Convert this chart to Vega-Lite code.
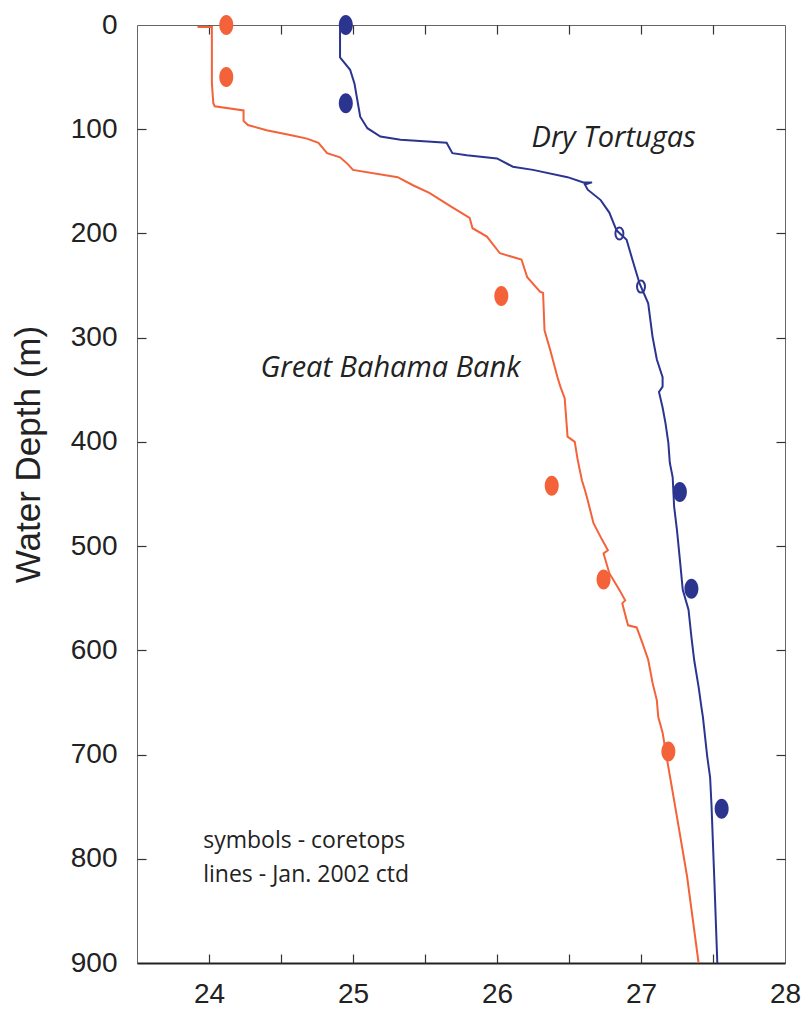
{
  "$schema": "https://vega.github.io/schema/vega-lite/v6.json",
  "width": 648,
  "height": 938,
  "autosize": "none",
  "padding": {"left": 137, "top": 25, "right": 25, "bottom": 49},
  "background": "white",
  "config": {
    "view": {"stroke": "#666", "strokeWidth": 1},
    "axis": {"grid": false, "tickColor": "#333", "tickWidth": 1.2, "labelColor": "#222", "titleColor": "#222", "labelFont": "Liberation Sans", "titleFont": "Liberation Sans"}
  },
  "datasets": {
    "lines": [
      {"site": "Great Bahama Bank", "i": 0, "T": 23.92, "D": 2},
      {"site": "Great Bahama Bank", "i": 1, "T": 24.02, "D": 2},
      {"site": "Great Bahama Bank", "i": 2, "T": 24.02, "D": 30},
      {"site": "Great Bahama Bank", "i": 3, "T": 24.02, "D": 56},
      {"site": "Great Bahama Bank", "i": 4, "T": 24.03, "D": 75},
      {"site": "Great Bahama Bank", "i": 5, "T": 24.04, "D": 78},
      {"site": "Great Bahama Bank", "i": 6, "T": 24.24, "D": 82},
      {"site": "Great Bahama Bank", "i": 7, "T": 24.24, "D": 92},
      {"site": "Great Bahama Bank", "i": 8, "T": 24.27, "D": 96},
      {"site": "Great Bahama Bank", "i": 9, "T": 24.40, "D": 101},
      {"site": "Great Bahama Bank", "i": 10, "T": 24.58, "D": 106},
      {"site": "Great Bahama Bank", "i": 11, "T": 24.68, "D": 109},
      {"site": "Great Bahama Bank", "i": 12, "T": 24.76, "D": 113},
      {"site": "Great Bahama Bank", "i": 13, "T": 24.82, "D": 123},
      {"site": "Great Bahama Bank", "i": 14, "T": 24.91, "D": 127},
      {"site": "Great Bahama Bank", "i": 15, "T": 24.96, "D": 133},
      {"site": "Great Bahama Bank", "i": 16, "T": 25.00, "D": 139},
      {"site": "Great Bahama Bank", "i": 17, "T": 25.31, "D": 146},
      {"site": "Great Bahama Bank", "i": 18, "T": 25.42, "D": 154},
      {"site": "Great Bahama Bank", "i": 19, "T": 25.53, "D": 161},
      {"site": "Great Bahama Bank", "i": 20, "T": 25.69, "D": 175},
      {"site": "Great Bahama Bank", "i": 21, "T": 25.81, "D": 185},
      {"site": "Great Bahama Bank", "i": 22, "T": 25.83, "D": 195},
      {"site": "Great Bahama Bank", "i": 23, "T": 25.93, "D": 203},
      {"site": "Great Bahama Bank", "i": 24, "T": 26.02, "D": 219},
      {"site": "Great Bahama Bank", "i": 25, "T": 26.17, "D": 225},
      {"site": "Great Bahama Bank", "i": 26, "T": 26.21, "D": 242},
      {"site": "Great Bahama Bank", "i": 27, "T": 26.30, "D": 256},
      {"site": "Great Bahama Bank", "i": 28, "T": 26.32, "D": 257},
      {"site": "Great Bahama Bank", "i": 29, "T": 26.33, "D": 293},
      {"site": "Great Bahama Bank", "i": 30, "T": 26.37, "D": 312},
      {"site": "Great Bahama Bank", "i": 31, "T": 26.42, "D": 338},
      {"site": "Great Bahama Bank", "i": 32, "T": 26.44, "D": 347},
      {"site": "Great Bahama Bank", "i": 33, "T": 26.47, "D": 358},
      {"site": "Great Bahama Bank", "i": 34, "T": 26.49, "D": 395},
      {"site": "Great Bahama Bank", "i": 35, "T": 26.54, "D": 400},
      {"site": "Great Bahama Bank", "i": 36, "T": 26.56, "D": 417},
      {"site": "Great Bahama Bank", "i": 37, "T": 26.59, "D": 437},
      {"site": "Great Bahama Bank", "i": 38, "T": 26.61, "D": 446},
      {"site": "Great Bahama Bank", "i": 39, "T": 26.63, "D": 456},
      {"site": "Great Bahama Bank", "i": 40, "T": 26.67, "D": 478},
      {"site": "Great Bahama Bank", "i": 41, "T": 26.73, "D": 494},
      {"site": "Great Bahama Bank", "i": 42, "T": 26.77, "D": 504},
      {"site": "Great Bahama Bank", "i": 43, "T": 26.74, "D": 507},
      {"site": "Great Bahama Bank", "i": 44, "T": 26.78, "D": 526},
      {"site": "Great Bahama Bank", "i": 45, "T": 26.85, "D": 542},
      {"site": "Great Bahama Bank", "i": 46, "T": 26.89, "D": 552},
      {"site": "Great Bahama Bank", "i": 47, "T": 26.87, "D": 555},
      {"site": "Great Bahama Bank", "i": 48, "T": 26.91, "D": 576},
      {"site": "Great Bahama Bank", "i": 49, "T": 26.97, "D": 578},
      {"site": "Great Bahama Bank", "i": 50, "T": 27.01, "D": 593},
      {"site": "Great Bahama Bank", "i": 51, "T": 27.05, "D": 609},
      {"site": "Great Bahama Bank", "i": 52, "T": 27.08, "D": 631},
      {"site": "Great Bahama Bank", "i": 53, "T": 27.11, "D": 648},
      {"site": "Great Bahama Bank", "i": 54, "T": 27.12, "D": 664},
      {"site": "Great Bahama Bank", "i": 55, "T": 27.15, "D": 679},
      {"site": "Great Bahama Bank", "i": 56, "T": 27.17, "D": 696},
      {"site": "Great Bahama Bank", "i": 57, "T": 27.25, "D": 760},
      {"site": "Great Bahama Bank", "i": 58, "T": 27.32, "D": 817},
      {"site": "Great Bahama Bank", "i": 59, "T": 27.40, "D": 900},
      {"site": "Dry Tortugas", "i": 0, "T": 24.91, "D": 1},
      {"site": "Dry Tortugas", "i": 1, "T": 24.91, "D": 31},
      {"site": "Dry Tortugas", "i": 2, "T": 24.98, "D": 43},
      {"site": "Dry Tortugas", "i": 3, "T": 25.01, "D": 56},
      {"site": "Dry Tortugas", "i": 4, "T": 25.03, "D": 72},
      {"site": "Dry Tortugas", "i": 5, "T": 25.05, "D": 88},
      {"site": "Dry Tortugas", "i": 6, "T": 25.10, "D": 99},
      {"site": "Dry Tortugas", "i": 7, "T": 25.19, "D": 107},
      {"site": "Dry Tortugas", "i": 8, "T": 25.33, "D": 110},
      {"site": "Dry Tortugas", "i": 9, "T": 25.65, "D": 113},
      {"site": "Dry Tortugas", "i": 10, "T": 25.69, "D": 123},
      {"site": "Dry Tortugas", "i": 11, "T": 25.79, "D": 125},
      {"site": "Dry Tortugas", "i": 12, "T": 26.00, "D": 128},
      {"site": "Dry Tortugas", "i": 13, "T": 26.11, "D": 136},
      {"site": "Dry Tortugas", "i": 14, "T": 26.25, "D": 139},
      {"site": "Dry Tortugas", "i": 15, "T": 26.49, "D": 146},
      {"site": "Dry Tortugas", "i": 16, "T": 26.60, "D": 151},
      {"site": "Dry Tortugas", "i": 17, "T": 26.66, "D": 151},
      {"site": "Dry Tortugas", "i": 18, "T": 26.61, "D": 153},
      {"site": "Dry Tortugas", "i": 19, "T": 26.63, "D": 158},
      {"site": "Dry Tortugas", "i": 20, "T": 26.72, "D": 168},
      {"site": "Dry Tortugas", "i": 21, "T": 26.78, "D": 180},
      {"site": "Dry Tortugas", "i": 22, "T": 26.83, "D": 197},
      {"site": "Dry Tortugas", "i": 23, "T": 26.90, "D": 206},
      {"site": "Dry Tortugas", "i": 24, "T": 26.94, "D": 225},
      {"site": "Dry Tortugas", "i": 25, "T": 26.99, "D": 248},
      {"site": "Dry Tortugas", "i": 26, "T": 27.05, "D": 267},
      {"site": "Dry Tortugas", "i": 27, "T": 27.08, "D": 299},
      {"site": "Dry Tortugas", "i": 28, "T": 27.11, "D": 321},
      {"site": "Dry Tortugas", "i": 29, "T": 27.15, "D": 338},
      {"site": "Dry Tortugas", "i": 30, "T": 27.15, "D": 347},
      {"site": "Dry Tortugas", "i": 31, "T": 27.125, "D": 352},
      {"site": "Dry Tortugas", "i": 32, "T": 27.15, "D": 367},
      {"site": "Dry Tortugas", "i": 33, "T": 27.17, "D": 382},
      {"site": "Dry Tortugas", "i": 34, "T": 27.19, "D": 401},
      {"site": "Dry Tortugas", "i": 35, "T": 27.20, "D": 420},
      {"site": "Dry Tortugas", "i": 36, "T": 27.22, "D": 434},
      {"site": "Dry Tortugas", "i": 37, "T": 27.23, "D": 462},
      {"site": "Dry Tortugas", "i": 38, "T": 27.25, "D": 485},
      {"site": "Dry Tortugas", "i": 39, "T": 27.27, "D": 513},
      {"site": "Dry Tortugas", "i": 40, "T": 27.29, "D": 542},
      {"site": "Dry Tortugas", "i": 41, "T": 27.33, "D": 561},
      {"site": "Dry Tortugas", "i": 42, "T": 27.35, "D": 587},
      {"site": "Dry Tortugas", "i": 43, "T": 27.37, "D": 610},
      {"site": "Dry Tortugas", "i": 44, "T": 27.40, "D": 635},
      {"site": "Dry Tortugas", "i": 45, "T": 27.42, "D": 655},
      {"site": "Dry Tortugas", "i": 46, "T": 27.43, "D": 664},
      {"site": "Dry Tortugas", "i": 47, "T": 27.46, "D": 702},
      {"site": "Dry Tortugas", "i": 48, "T": 27.48, "D": 722},
      {"site": "Dry Tortugas", "i": 49, "T": 27.49, "D": 750},
      {"site": "Dry Tortugas", "i": 50, "T": 27.51, "D": 823},
      {"site": "Dry Tortugas", "i": 51, "T": 27.53, "D": 900}
    ],
    "coretops": [
      {"site": "Great Bahama Bank", "T": 24.12, "D": 0},
      {"site": "Great Bahama Bank", "T": 24.12, "D": 50},
      {"site": "Great Bahama Bank", "T": 26.03, "D": 260},
      {"site": "Great Bahama Bank", "T": 26.38, "D": 442},
      {"site": "Great Bahama Bank", "T": 26.74, "D": 532},
      {"site": "Great Bahama Bank", "T": 27.19, "D": 697},
      {"site": "Dry Tortugas", "T": 24.95, "D": 0},
      {"site": "Dry Tortugas", "T": 24.95, "D": 75},
      {"site": "Dry Tortugas", "T": 27.27, "D": 448},
      {"site": "Dry Tortugas", "T": 27.35, "D": 541},
      {"site": "Dry Tortugas", "T": 27.56, "D": 752}
    ],
    "open": [
      {"site": "Dry Tortugas", "T": 26.85, "D": 200},
      {"site": "Dry Tortugas", "T": 27.00, "D": 251}
    ],
    "labels": [
      {"text": "Dry Tortugas", "T": 26.81, "D": 117},
      {"text": "Great Bahama Bank", "T": 25.26, "D": 338}
    ],
    "notes": [
      {"text": "symbols - coretops", "T": 23.96, "D": 790},
      {"text": "lines - Jan. 2002 ctd", "T": 23.96, "D": 822}
    ]
  },
  "layer": [
    {
      "data": {"name": "lines"},
      "mark": {"type": "line", "strokeWidth": 2},
      "encoding": {
        "x": {"field": "T", "type": "quantitative", "scale": {"domain": [23.5, 28], "nice": false, "zero": false},
          "axis": {"orient": "bottom", "title": null, "values": [24, 25, 26, 27, 28], "ticks": false, "labelPadding": 17, "labelFontSize": 28, "format": "d", "domainColor": "#222", "domainWidth": 2, "labelFlush": false}},
        "y": {"field": "D", "type": "quantitative", "scale": {"domain": [0, 900], "reverse": true, "nice": false, "zero": false},
          "axis": {"orient": "left", "title": "Water Depth (m)", "values": [0, 100, 200, 300, 400, 500, 600, 700, 800, 900], "ticks": false, "labelPadding": 20, "labelFontSize": 28, "format": "d", "domain": false, "labelFlush": false, "titleFontSize": 35, "titleFontWeight": "normal", "titleAngle": -90, "titleBaseline": "middle", "titleAlign": "center", "titleX": -109, "titleY": 429}},
        "color": {"field": "site", "type": "nominal", "scale": {"domain": ["Great Bahama Bank", "Dry Tortugas"], "range": ["#f4623a", "#2b3590"]}, "legend": null},
        "detail": {"field": "site"},
        "order": {"field": "i", "type": "quantitative"}
      }
    },
    {
      "data": {"name": "coretops"},
      "mark": {"type": "point", "filled": true, "opacity": 1, "size": 196, "shape": "M0,-1.43A1,1.43,0,1,1,0,1.43A1,1.43,0,1,1,0,-1.43Z"},
      "encoding": {
        "x": {"field": "T", "type": "quantitative", "axis": {"orient": "top", "title": null, "values": [24, 24.5, 25, 25.5, 26, 26.5, 27, 27.5], "tickSize": 9, "offset": -9, "labels": false, "domain": false}},
        "y": {"field": "D", "type": "quantitative", "axis": {"orient": "right", "title": null, "values": [100, 200, 300, 400, 500, 600, 700, 800], "tickSize": 9, "offset": -9, "labels": false, "domain": false}},
        "color": {"field": "site", "type": "nominal", "legend": null}
      }
    },
    {
      "data": {"name": "open"},
      "mark": {"type": "point", "filled": false, "opacity": 1, "size": 64, "strokeWidth": 2, "color": "#2b3590", "shape": "M0,-1.5A1,1.5,0,1,1,0,1.5A1,1.5,0,1,1,0,-1.5Z"},
      "encoding": {
        "x": {"field": "T", "type": "quantitative", "axis": {"orient": "bottom", "title": null, "values": [24, 24.5, 25, 25.5, 26, 26.5, 27, 27.5], "tickSize": 9, "offset": -9, "labels": false, "domain": false}},
        "y": {"field": "D", "type": "quantitative", "axis": {"orient": "left", "title": null, "values": [100, 200, 300, 400, 500, 600, 700, 800], "tickSize": 9, "offset": -9, "labels": false, "domain": false}}
      }
    },
    {
      "data": {"name": "labels"},
      "mark": {"type": "text", "font": "Open Sans", "fontStyle": "italic", "fontSize": 29, "color": "#222", "align": "center", "baseline": "alphabetic"},
      "encoding": {
        "x": {"field": "T", "type": "quantitative", "axis": null},
        "y": {"field": "D", "type": "quantitative", "axis": null},
        "text": {"field": "text"}
      }
    },
    {
      "data": {"name": "notes"},
      "mark": {"type": "text", "font": "Open Sans", "fontSize": 23, "color": "#222", "align": "left", "baseline": "alphabetic"},
      "encoding": {
        "x": {"field": "T", "type": "quantitative", "axis": null},
        "y": {"field": "D", "type": "quantitative", "axis": null},
        "text": {"field": "text"}
      }
    }
  ],
  "resolve": {"axis": {"x": "independent", "y": "independent"}}
}
